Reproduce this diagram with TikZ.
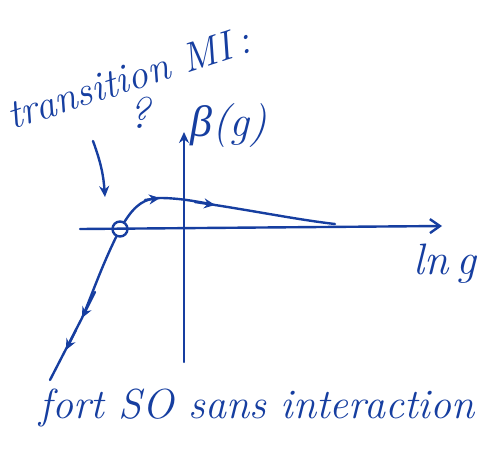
\documentclass[tikz,border=0pt]{standalone}
\usepackage{fontspec}
\newfontfamily\gkfont{Liberation Serif}
\usetikzlibrary{arrows.meta}
\definecolor{ink}{RGB}{22,62,160}
\begin{document}
\begin{tikzpicture}[x=1pt,y=-1pt,
  pen/.style={draw=ink,line width=2.4pt,line cap=round,line join=round},
  hand/.style={text=ink,font=\itshape\fontsize{44}{46}\selectfont,inner sep=0pt},
  tip/.style={-{Stealth[length=11pt,width=10pt]}},
  opentip/.style={-{Straight Barb[length=10pt,width=14pt]}}]
\useasboundingbox (0,0) rectangle (494,458);
% axes
\coordinate (hl) at (80,229);
\coordinate (hr) at (442,226);
\coordinate (vb) at (184,362);
\coordinate (vt) at (184,132);
\draw[pen,opentip] (hl) -- (hr);
\draw[pen,tip] (vb) -- (vt);
% labels
\node[hand,font=\itshape\fontsize{41}{43}\selectfont,rotate=18,anchor=base west] (trans) at (12,130) {transition MI\,:};
\node[hand] (q) at (139,113) {?};
\node[hand,anchor=west] (beta) at (190,126) {{\gkfont\itshape β}(g)};
\node[hand] (lng) at (445,264) {ln\,g};
\node[hand,font=\itshape\fontsize{42}{44}\selectfont] (bottom) at (257,408) {fort SO sans interaction};
% pointer arrow
\coordinate (pa) at (93,141);
\coordinate (pb) at (105,197);
\draw[pen,tip] (pa) to[bend left=8] (pb);
% fixed point
\node[circle,draw=ink,line width=2.4pt,minimum size=15pt,inner sep=0pt] (fp) at (120,229) {};
% upper branch
\coordinate (c1) at (160,198);
\coordinate (c2) at (215,205);
\coordinate (c3) at (335,224);
\draw[pen] (fp) .. controls (135,205) and (145,198) .. (c1)
  .. controls (180,198) and (200,202) .. (c2)
  .. controls (260,212) and (300,220) .. (c3);
\draw[pen,tip] (145,200) -- (c1);
\draw[pen,tip] (195,202) -- (c2);
% lower branch
\coordinate (l1) at (82,318);
\coordinate (l2) at (66,350);
\coordinate (l3) at (50,380);
\draw[pen] (fp) .. controls (100,270) and (90,300) .. (l1) -- (l3);
\draw[pen,tip] (95,292) -- (l1);
\draw[pen,tip] (76,330) -- (l2);
\end{tikzpicture}
\end{document}
